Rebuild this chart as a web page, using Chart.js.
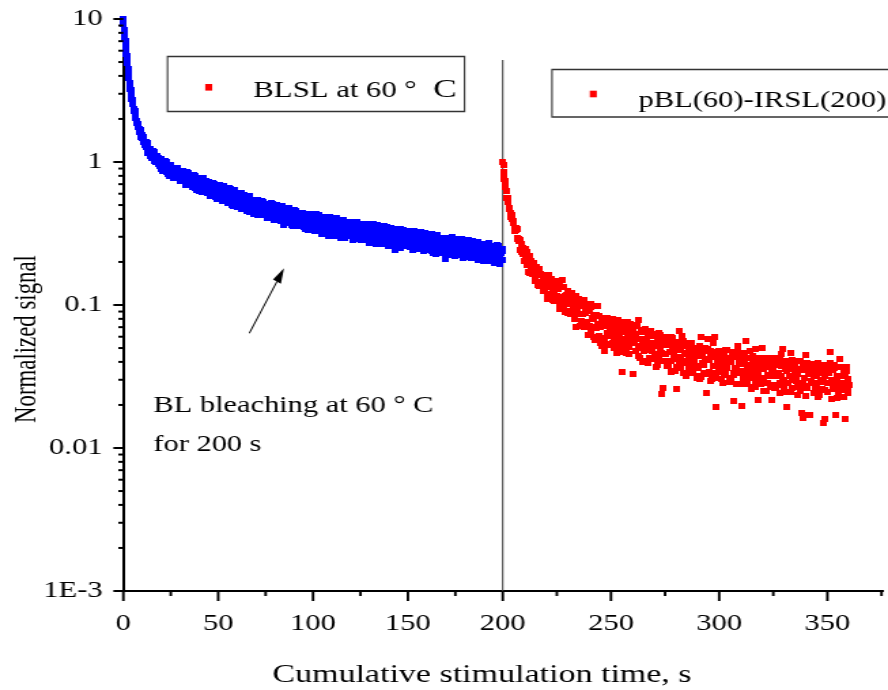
<!DOCTYPE html>
<html>
<head>
<meta charset="utf-8">
<title>BLSL and pBL(60)-IRSL(200) decay curves</title>
<script src="https://cdn.jsdelivr.net/npm/chart.js@4.4.1/dist/chart.umd.min.js"></script>
<style>
  html, body { margin: 0; padding: 0; background: #fff; overflow: hidden; }
  #wrap { width: 653px; height: 690px; transform: scale(1.35988, 1); transform-origin: 0 0; }
  #chart { display: block; }
</style>
</head>
<body>
<div id="wrap"><canvas id="chart" width="653" height="690"></canvas></div>
<script>
// The original figure is stretched sideways, so the chart is drawn on a narrower
// canvas and widened with a CSS transform. Positions given in "ref" pixels are divided by STRETCH.
const STRETCH = 888 / 653;
const SERIF = "'Liberation Serif', 'Times New Roman', serif";

// ---- data -----------------------------------------------------------------
// BLSL at 60 C: first 5 s read every 0.2 s, then readings every 0.25 s,
// kept as two lists: t = 5, 5.5, ... 200 and t = 5.25, 5.75, ... 199.75
const blueEarlyStep = 0.2;
const blueEarly = [10.0, 9.3, 8.4, 8.0, 7.3, 7.0, 6.4, 6.2, 5.7, 5.5, 5.0, 4.9, 4.45, 4.3, 3.95,
  3.85, 3.55, 3.5, 3.25, 3.2, 2.95, 2.95, 2.74, 2.72, 2.55];
const blueStart = 5;
const blueStep = 0.5;
const blueSignal = [
  2.55, 2.27, 2.27, 2.03, 1.95, 1.76, 1.80, 1.64, 1.68, 1.49,
  1.47, 1.50, 1.31, 1.38, 1.27, 1.36, 1.16, 1.24, 1.23, 1.11,
  1.19, 1.10, 1.02, 1.17, 1.02, 1.07, 1.10, 0.97, 0.99, 1.02,
  0.897, 0.982, 1.00, 0.913, 1.01, 0.856, 0.920, 0.956, 0.804, 0.911,
  0.954, 0.832, 0.876, 0.774, 0.894, 0.835, 0.778, 0.887, 0.798, 0.767,
  0.747, 0.830, 0.747, 0.854, 0.763, 0.784, 0.694, 0.815, 0.735, 0.838,
  0.692, 0.737, 0.797, 0.671, 0.755, 0.695, 0.795, 0.639, 0.730, 0.748,
  0.739, 0.750, 0.679, 0.616, 0.769, 0.641, 0.702, 0.738, 0.621, 0.656,
  0.684, 0.593, 0.668, 0.687, 0.621, 0.709, 0.583, 0.640, 0.673, 0.549,
  0.580, 0.688, 0.581, 0.625, 0.535, 0.649, 0.599, 0.549, 0.654, 0.573,
  0.600, 0.529, 0.653, 0.545, 0.608, 0.502, 0.615, 0.554, 0.514, 0.576,
  0.486, 0.575, 0.601, 0.520, 0.468, 0.577, 0.539, 0.495, 0.588, 0.509,
  0.567, 0.477, 0.527, 0.577, 0.455, 0.525, 0.489, 0.531, 0.432, 0.531,
  0.471, 0.545, 0.441, 0.489, 0.519, 0.423, 0.501, 0.449, 0.521, 0.432,
  0.497, 0.405, 0.481, 0.509, 0.429, 0.463, 0.408, 0.506, 0.439, 0.472,
  0.412, 0.457, 0.501, 0.390, 0.463, 0.421, 0.476, 0.395, 0.439, 0.365,
  0.475, 0.406, 0.443, 0.380, 0.471, 0.420, 0.391, 0.448, 0.360, 0.423,
  0.399, 0.461, 0.370, 0.426, 0.357, 0.433, 0.406, 0.378, 0.439, 0.365,
  0.426, 0.352, 0.402, 0.436, 0.374, 0.337, 0.411, 0.379, 0.418, 0.356,
  0.357, 0.419, 0.327, 0.387, 0.431, 0.340, 0.389, 0.360, 0.414, 0.314,
  0.395, 0.350, 0.414, 0.326, 0.368, 0.393, 0.306, 0.381, 0.331, 0.399,
  0.312, 0.370, 0.390, 0.341, 0.304, 0.403, 0.329, 0.354, 0.374, 0.316,
  0.393, 0.319, 0.354, 0.292, 0.373, 0.336, 0.381, 0.304, 0.359, 0.323,
  0.332, 0.376, 0.305, 0.355, 0.288, 0.342, 0.382, 0.311, 0.290, 0.354,
  0.358, 0.283, 0.332, 0.370, 0.306, 0.290, 0.348, 0.313, 0.361, 0.273,
  0.296, 0.333, 0.280, 0.366, 0.307, 0.345, 0.268, 0.334, 0.319, 0.285,
  0.345, 0.298, 0.320, 0.269, 0.347, 0.286, 0.322, 0.275, 0.352, 0.301,
  0.264, 0.327, 0.294, 0.339, 0.275, 0.306, 0.242, 0.326, 0.281, 0.338,
  0.306, 0.265, 0.340, 0.282, 0.312, 0.258, 0.319, 0.288, 0.331, 0.269,
  0.277, 0.328, 0.263, 0.296, 0.317, 0.243, 0.303, 0.267, 0.288, 0.317,
  0.249, 0.294, 0.273, 0.322, 0.259, 0.304, 0.240, 0.281, 0.297, 0.251,
  0.300, 0.270, 0.311, 0.244, 0.285, 0.256, 0.304, 0.230, 0.279, 0.258,
  0.248, 0.308, 0.259, 0.282, 0.230, 0.293, 0.241, 0.272, 0.295, 0.211,
  0.274, 0.238, 0.292, 0.252, 0.279, 0.224, 0.297, 0.242, 0.261, 0.230,
  0.221, 0.278, 0.243, 0.289, 0.227, 0.261, 0.249, 0.278, 0.214, 0.266,
  0.280, 0.234, 0.253, 0.218, 0.285, 0.228, 0.261, 0.238, 0.267, 0.212,
  0.251, 0.276, 0.221, 0.253, 0.205, 0.263, 0.230, 0.269, 0.214, 0.242,
  0.224, 0.262, 0.205, 0.254, 0.229, 0.270, 0.213, 0.244, 0.205, 0.254,
  0.249, 0.200, 0.238, 0.213, 0.261, 0.219, 0.249, 0.194, 0.231, 0.206, 0.240
];
const blueSignalOdd = [
  2.33, 2.28, 2.20, 1.94, 1.88, 1.84, 1.63, 1.71, 1.55, 1.53,
  1.54, 1.39, 1.31, 1.37, 1.39, 1.19, 1.24, 1.17, 1.24, 1.07,
  1.08, 1.19, 1.11, 0.993, 1.094, 1.012, 1.071, 1.015, 0.938, 1.045,
  0.979, 0.861, 1.012, 0.963, 0.870, 0.997, 0.888, 0.825, 0.924, 0.932,
  0.854, 0.906, 0.787, 0.915, 0.839, 0.789, 0.906, 0.809, 0.834, 0.731,
  0.736, 0.818, 0.865, 0.739, 0.768, 0.823, 0.691, 0.846, 0.732, 0.769,
  0.813, 0.726, 0.689, 0.765, 0.809, 0.661, 0.728, 0.684, 0.766, 0.629,
  0.661, 0.773, 0.711, 0.615, 0.726, 0.656, 0.725, 0.679, 0.611, 0.726,
  0.666, 0.576, 0.705, 0.669, 0.596, 0.707, 0.619, 0.570, 0.656, 0.667,
  0.602, 0.655, 0.547, 0.671, 0.604, 0.562, 0.675, 0.586, 0.613, 0.518,
  0.530, 0.603, 0.643, 0.536, 0.562, 0.610, 0.496, 0.632, 0.533, 0.566,
  0.605, 0.531, 0.500, 0.567, 0.606, 0.478, 0.537, 0.500, 0.572, 0.453,
  0.484, 0.575, 0.525, 0.449, 0.539, 0.483, 0.539, 0.503, 0.449, 0.542,
  0.495, 0.423, 0.528, 0.501, 0.443, 0.533, 0.463, 0.424, 0.494, 0.505,
  0.454, 0.494, 0.414, 0.508, 0.458, 0.426, 0.513, 0.446, 0.468, 0.396,
  0.405, 0.461, 0.495, 0.412, 0.433, 0.471, 0.385, 0.490, 0.416, 0.442,
  0.474, 0.416, 0.392, 0.445, 0.476, 0.375, 0.422, 0.393, 0.451, 0.358,
  0.382, 0.456, 0.417, 0.358, 0.429, 0.386, 0.431, 0.404, 0.361, 0.437,
  0.399, 0.342, 0.427, 0.405, 0.358, 0.432, 0.375, 0.344, 0.402, 0.411,
  0.368, 0.407, 0.332, 0.421, 0.375, 0.345, 0.428, 0.365, 0.386, 0.319,
  0.328, 0.382, 0.414, 0.336, 0.357, 0.393, 0.311, 0.412, 0.341, 0.366,
  0.397, 0.343, 0.321, 0.373, 0.404, 0.308, 0.354, 0.327, 0.384, 0.295,
  0.320, 0.391, 0.354, 0.297, 0.368, 0.326, 0.371, 0.344, 0.303, 0.378,
  0.342, 0.285, 0.370, 0.349, 0.303, 0.377, 0.322, 0.291, 0.349, 0.359,
  0.318, 0.352, 0.287, 0.365, 0.325, 0.300, 0.371, 0.317, 0.336, 0.277,
  0.286, 0.333, 0.361, 0.294, 0.312, 0.344, 0.272, 0.361, 0.299, 0.322,
  0.349, 0.302, 0.283, 0.328, 0.355, 0.271, 0.312, 0.288, 0.338, 0.260,
  0.282, 0.345, 0.312, 0.261, 0.324, 0.287, 0.327, 0.304, 0.267, 0.334,
  0.301, 0.252, 0.327, 0.308, 0.268, 0.333, 0.284, 0.257, 0.308, 0.316,
  0.281, 0.310, 0.253, 0.322, 0.287, 0.264, 0.328, 0.280, 0.296, 0.245,
  0.252, 0.294, 0.318, 0.259, 0.275, 0.303, 0.240, 0.318, 0.264, 0.284,
  0.308, 0.266, 0.249, 0.289, 0.313, 0.239, 0.275, 0.254, 0.298, 0.228,
  0.248, 0.304, 0.275, 0.230, 0.286, 0.253, 0.288, 0.268, 0.235, 0.294,
  0.266, 0.222, 0.288, 0.272, 0.236, 0.294, 0.250, 0.227, 0.272, 0.279,
  0.248, 0.274, 0.224, 0.284, 0.253, 0.234, 0.290, 0.248, 0.262, 0.217,
  0.223, 0.260, 0.282, 0.229, 0.244, 0.269, 0.213, 0.282, 0.234, 0.252,
  0.273, 0.236, 0.221, 0.256, 0.277, 0.212, 0.244, 0.225, 0.264, 0.203,
  0.220, 0.269, 0.244, 0.204, 0.253, 0.224, 0.255, 0.237, 0.208, 0.260,
  0.235, 0.196, 0.255, 0.240, 0.209, 0.260, 0.221, 0.200, 0.241, 0.247
];

// pBL(60)-IRSL(200): 200-205 s read every 0.2 s, then every 0.25 s up to 360 s
const redStart = 200;
const redEarlyStep = 0.2;
const redEarly = [1.00, 0.949, 0.849, 0.841, 0.761, 0.736, 0.670, 0.676, 0.625, 0.624,
  0.559, 0.557, 0.522, 0.528, 0.470, 0.477, 0.473, 0.438, 0.442, 0.410,
  0.424, 0.402, 0.408, 0.377, 0.381];
const redMainStart = 205;
const redStep = 0.5;
const redSignal = [
  0.388, 0.328, 0.335, 0.340, 0.288, 0.280, 0.282, 0.236, 0.251, 0.228,
  0.203, 0.232, 0.236, 0.192, 0.169, 0.199, 0.204, 0.166, 0.178, 0.196,
  0.158, 0.184, 0.139, 0.163, 0.178, 0.139, 0.161, 0.125, 0.160, 0.138,
  0.148, 0.113, 0.155, 0.161, 0.119, 0.133, 0.108, 0.142, 0.120, 0.146,
  0.107, 0.130, 0.094, 0.135, 0.108, 0.150, 0.096, 0.115, 0.089, 0.118,
  0.125, 0.101, 0.114, 0.086, 0.121, 0.088, 0.100, 0.070, 0.109, 0.087,
  0.0868, 0.108, 0.0713, 0.0983, 0.0864, 0.108, 0.0716, 0.0888, 0.0735, 0.0980,
  0.0907, 0.0644, 0.101, 0.0698, 0.0796, 0.0570, 0.0847, 0.0695, 0.0979, 0.0608,
  0.0541, 0.0729, 0.0805, 0.0590, 0.0473, 0.0755, 0.0639, 0.0806, 0.0537, 0.0701,
  0.0673, 0.0538, 0.0799, 0.0582, 0.0742, 0.0463, 0.0687, 0.0490, 0.0632, 0.0756,
  0.0340, 0.0686, 0.0541, 0.0726, 0.0458, 0.0641, 0.0761, 0.0512, 0.0556, 0.0674,
  0.0643, 0.0328, 0.0713, 0.0479, 0.0583, 0.0519, 0.0790, 0.0423, 0.0646, 0.0538,
  0.0476, 0.0664, 0.0513, 0.0582, 0.0390, 0.0616, 0.0427, 0.0663, 0.0476, 0.0542,
  0.0606, 0.0452, 0.0518, 0.0379, 0.0632, 0.0482, 0.0558, 0.0238, 0.0525, 0.0405,
  0.0454, 0.0594, 0.0372, 0.0524, 0.0407, 0.0594, 0.0339, 0.0488, 0.0535, 0.0421,
  0.0516, 0.0257, 0.0548, 0.0425, 0.0483, 0.0361, 0.0610, 0.0393, 0.0451, 0.0319,
  0.0541, 0.0398, 0.0502, 0.0337, 0.0452, 0.0542, 0.0357, 0.0413, 0.0503, 0.0319,
  0.0375, 0.0474, 0.0304, 0.0594, 0.0392, 0.0445, 0.0333, 0.0497, 0.0243, 0.0417,
  0.0580, 0.0338, 0.0445, 0.0303, 0.0539, 0.0376, 0.0471, 0.0192, 0.0414, 0.0338,
  0.0474, 0.0357, 0.0398, 0.0283, 0.0438, 0.0323, 0.0488, 0.0362, 0.0423, 0.0299,
  0.0308, 0.0398, 0.0469, 0.0335, 0.0212, 0.0432, 0.0361, 0.0518, 0.0279, 0.0396,
  0.0404, 0.0197, 0.0432, 0.0333, 0.0458, 0.0282, 0.0378, 0.0310, 0.0473, 0.0346,
  0.0269, 0.0411, 0.0334, 0.0495, 0.0294, 0.0360, 0.0217, 0.0423, 0.0310, 0.0374,
  0.0503, 0.0298, 0.0380, 0.0250, 0.0424, 0.0322, 0.0394, 0.0274, 0.0346, 0.0218,
  0.0364, 0.0263, 0.0424, 0.0324, 0.0278, 0.0394, 0.0241, 0.0373, 0.0452, 0.0300,
  0.0294, 0.0409, 0.0195, 0.0346, 0.0380, 0.0247, 0.0465, 0.0307, 0.0263, 0.0358,
  0.0384, 0.0296, 0.0331, 0.0234, 0.0406, 0.0276, 0.0353, 0.0163, 0.0385, 0.0307,
  0.0444, 0.0264, 0.0340, 0.0170, 0.0355, 0.0296, 0.0388, 0.0244, 0.0328, 0.0277,
  0.0285, 0.0392, 0.0233, 0.0350, 0.0299, 0.0364, 0.0149, 0.0321, 0.0255, 0.0378,
  0.0246, 0.0335, 0.0286, 0.0390, 0.0219, 0.0349, 0.0267, 0.0362, 0.0169, 0.0305,
  0.0369, 0.0256, 0.0422, 0.0270, 0.0317, 0.0229, 0.0331, 0.0283, 0.0345, 0.0243,
  0.0275
];
const redSignalOdd = [
  0.340, 0.348, 0.345, 0.295, 0.289, 0.286, 0.241, 0.268, 0.232, 0.233,
  0.246, 0.208, 0.189, 0.211, 0.221, 0.167, 0.186, 0.169, 0.191, 0.146,
  0.154, 0.184, 0.164, 0.135, 0.165, 0.144, 0.162, 0.148, 0.129, 0.158,
  0.142, 0.110, 0.154, 0.141, 0.115, 0.152, 0.122, 0.106, 0.134, 0.138,
  0.116, 0.131, 0.0985, 0.134, 0.114, 0.102, 0.134, 0.108, 0.115, 0.0876,
  0.0906, 0.110, 0.121, 0.0914, 0.0984, 0.111, 0.0803, 0.116, 0.0897, 0.0979,
  0.111, 0.0872, 0.0774, 0.0977, 0.109, 0.0700, 0.0875, 0.0760, 0.0968, 0.0620,
  0.0708, 0.0962, 0.0816, 0.0600, 0.0846, 0.0691, 0.0841, 0.0742, 0.0595, 0.0840,
  0.0701, 0.0515, 0.0786, 0.0716, 0.0568, 0.0800, 0.0622, 0.0524, 0.0705, 0.0731,
  0.0605, 0.0718, 0.0500, 0.0760, 0.0626, 0.0542, 0.0781, 0.0601, 0.0662, 0.0468,
  0.0497, 0.0652, 0.0743, 0.0521, 0.0580, 0.0686, 0.0452, 0.0740, 0.0538, 0.0611,
  0.0703, 0.0544, 0.0479, 0.0630, 0.0719, 0.0441, 0.0575, 0.0497, 0.0659, 0.0402,
  0.0474, 0.0676, 0.0569, 0.0406, 0.0604, 0.0485, 0.0609, 0.0534, 0.0418, 0.0623,
  0.0523, 0.0369, 0.0598, 0.0541, 0.0416, 0.0614, 0.0464, 0.0264, 0.0537, 0.0560,
  0.0453, 0.0540, 0.0372, 0.0585, 0.0469, 0.0403, 0.0589, 0.0449, 0.0496, 0.0345,
  0.0368, 0.0489, 0.0653, 0.0388, 0.0434, 0.0516, 0.0335, 0.0559, 0.0403, 0.0460,
  0.0528, 0.0410, 0.0361, 0.0476, 0.0544, 0.0335, 0.0436, 0.0378, 0.0502, 0.0307,
  0.0362, 0.0520, 0.0438, 0.0314, 0.0469, 0.0379, 0.0476, 0.0420, 0.0330, 0.0494,
  0.0415, 0.0294, 0.0477, 0.0432, 0.0334, 0.0596, 0.0374, 0.0309, 0.0434, 0.0454,
  0.0368, 0.0440, 0.0303, 0.0480, 0.0385, 0.0332, 0.0486, 0.0372, 0.0412, 0.0288,
  0.0307, 0.0409, 0.0467, 0.0324, 0.0363, 0.0432, 0.0280, 0.0469, 0.0337, 0.0386,
  0.0444, 0.0344, 0.0304, 0.0401, 0.0560, 0.0282, 0.0369, 0.0319, 0.0424, 0.0260,
  0.0307, 0.0440, 0.0372, 0.0266, 0.0398, 0.0322, 0.0406, 0.0357, 0.0281, 0.0421,
  0.0354, 0.0251, 0.0408, 0.0370, 0.0286, 0.0423, 0.0321, 0.0265, 0.0373, 0.0390,
  0.0318, 0.0380, 0.0262, 0.0414, 0.0332, 0.0286, 0.0419, 0.0320, 0.0492, 0.0248,
  0.0267, 0.0355, 0.0408, 0.0283, 0.0317, 0.0378, 0.0246, 0.0411, 0.0297, 0.0340,
  0.0392, 0.0305, 0.0269, 0.0355, 0.0406, 0.0250, 0.0175, 0.0283, 0.0377, 0.0231,
  0.0272, 0.0392, 0.0331, 0.0169, 0.0355, 0.0287, 0.0361, 0.0319, 0.0251, 0.0377,
  0.0318, 0.0226, 0.0366, 0.0332, 0.0257, 0.0380, 0.0289, 0.0159, 0.0337, 0.0352,
  0.0287, 0.0343, 0.0467, 0.0374, 0.0300, 0.0259, 0.0380, 0.0290, 0.0321, 0.0225,
  0.0240, 0.0320, 0.0367, 0.0254, 0.0285, 0.0339, 0.0160, 0.0368, 0.0267, 0.0306
];

// ---- labels and ticks -------------------------------------------------------
const legendLabels = ['BLSL at 60 \u00b0 C', 'pBL(60)-IRSL(200)'];
const noteLines = ['BL bleaching at 60 \u00b0 C', 'for 200 s'];
const xTitle = 'Cumulative stimulation time, s';
const yTitle = 'Normalized signal';
const separatorTime = 200;

// the left part (BLSL) and the right part (IRSL) of the time axis have different spacing
const xLabelsLeft = [0, 50, 100, 150, 200];
const xLabelsRight = [250, 300, 350];
const xMinorLeft = [25, 75, 125, 175];
const xMinorRight = [225, 275, 325, 375];
const yDecades = [0.001, 0.01, 0.1, 1];
const yTickLabels = { '0.001': '1E-3', '0.01': '0.01', '0.1': '0.1', '1': '1', '10': '10' };

const yTickValues = [];
yDecades.forEach(d => {
  for (let m = 1; m < 10; m++) yTickValues.push(+(d * m).toPrecision(3));
});
yTickValues.push(10);

function toPoints(start, step, values) {
  return values.map((v, i) => ({ x: +(start + i * step).toFixed(2), y: v }));
}

const bluePoints = toPoints(0, blueEarlyStep, blueEarly)
  .concat(toPoints(blueStart, blueStep, blueSignal))
  .concat(toPoints(blueStart + blueStep / 2, blueStep, blueSignalOdd));
const redPoints = toPoints(redStart, redEarlyStep, redEarly)
  .concat(toPoints(redMainStart, redStep, redSignal))
  .concat(toPoints(redMainStart + redStep / 2, redStep, redSignalOdd));

function squareMarker(color, w, h) {
  const c = document.createElement('canvas');
  c.width = w;
  c.height = h;
  const g = c.getContext('2d');
  g.fillStyle = color;
  g.fillRect(0, 0, w, h);
  return c;
}

function noPadding(s) {
  s.paddingLeft = 0;
  s.paddingRight = 0;
  s.paddingTop = 0;
  s.paddingBottom = 0;
}

// ---- plugins ----------------------------------------------------------------
// put the second time scale on the same row as the first one
const sharedAxisRow = {
  id: 'sharedAxisRow',
  afterLayout(chart) {
    const a = chart.scales.x;
    const b = chart.scales.x2;
    b.top = a.top;
    b.bottom = a.bottom;
    b.height = a.height;
  }
};

const decorations = {
  id: 'decorations',
  beforeDatasetsDraw(chart) {
    const { ctx, chartArea, scales: { x } } = chart;
    const px = x.getPixelForValue(separatorTime) * STRETCH;
    ctx.save();
    ctx.scale(1 / STRETCH, 1);
    ctx.strokeStyle = '#3a3a3a';
    ctx.lineWidth = 1.4;
    ctx.beginPath();
    ctx.moveTo(px, 60);
    ctx.lineTo(px, chartArea.bottom);
    ctx.stroke();
    ctx.restore();
  },
  afterDraw(chart) {
    const { ctx, chartArea, scales: { x, x2, y } } = chart;
    ctx.save();
    ctx.scale(1 / STRETCH, 1);
    ctx.strokeStyle = '#000';

    // tick marks
    const left = chartArea.left * STRETCH;
    ctx.lineWidth = 2;
    yTickValues.forEach(v => {
      const lg = Math.log10(v);
      const major = Math.abs(lg - Math.round(lg)) < 1e-9;
      const py = y.getPixelForValue(v);
      ctx.beginPath();
      ctx.moveTo(left - (major ? 10 : 5), py);
      ctx.lineTo(left, py);
      ctx.stroke();
    });
    ctx.lineWidth = 2.6;
    const xTick = (scale, v, len) => {
      const px = scale.getPixelForValue(v) * STRETCH;
      ctx.beginPath();
      ctx.moveTo(px, chartArea.bottom);
      ctx.lineTo(px, chartArea.bottom + len);
      ctx.stroke();
    };
    xLabelsLeft.forEach(v => xTick(x, v, 10));
    xMinorLeft.forEach(v => xTick(x, v, 5));
    xLabelsRight.forEach(v => xTick(x2, v, 10));
    xMinorRight.forEach(v => xTick(x2, v, 5));

    // legend boxes
    ctx.lineWidth = 1.5;
    ctx.strokeStyle = '#333';
    ctx.fillStyle = '#fff';
    ctx.fillRect(167.5, 56.5, 297, 55);
    ctx.strokeRect(167.5, 56.5, 297, 55);
    ctx.fillRect(552, 69.5, 345, 47.5);
    ctx.strokeRect(552, 69.5, 345, 47.5);
    ctx.fillStyle = '#ff0000';
    ctx.fillRect(205.2, 84, 7, 6.6);
    ctx.fillRect(589.8, 90.7, 7, 6.6);

    // arrow pointing at the BLSL curve
    const tail = [249.3, 333.3];
    const tip = [284, 268.3];
    const dx = tip[0] - tail[0], dy = tip[1] - tail[1];
    const len = Math.hypot(dx, dy);
    const ux = dx / len, uy = dy / len;
    const bx = tip[0] - ux * 15, by = tip[1] - uy * 15;
    ctx.strokeStyle = '#000';
    ctx.fillStyle = '#000';
    ctx.lineWidth = 1.3;
    ctx.beginPath();
    ctx.moveTo(tail[0], tail[1]);
    ctx.lineTo(bx, by);
    ctx.stroke();
    ctx.beginPath();
    ctx.moveTo(tip[0], tip[1]);
    ctx.lineTo(bx - uy * 4.5, by + ux * 4.5);
    ctx.lineTo(bx + uy * 4.5, by - ux * 4.5);
    ctx.closePath();
    ctx.fill();
    ctx.restore();

    // texts (drawn on the narrow canvas so they get widened like the original)
    ctx.save();
    ctx.fillStyle = '#000';
    ctx.textBaseline = 'alphabetic';
    ctx.textAlign = 'left';
    ctx.font = `22.6px ${SERIF}`;
    const first = legendLabels[0];
    ctx.fillText(first.slice(0, -1).trimEnd(), 253.3 / STRETCH, 96.7);
    ctx.font = `26px ${SERIF}`;
    ctx.fillText(first.slice(-1), 433 / STRETCH, 96.9);
    ctx.font = `22.5px ${SERIF}`;
    ctx.fillText(legendLabels[1], 638.3 / STRETCH, 106.7);

    ctx.font = `22.4px ${SERIF}`;
    ctx.fillText(noteLines[0], 153.3 / STRETCH, 411.5);
    ctx.fillText(noteLines[1], 153.3 / STRETCH, 450.7);

    ctx.font = `25px ${SERIF}`;
    ctx.textAlign = 'center';
    ctx.fillText(xTitle, 482 / STRETCH, 681.5);

    ctx.font = `22.8px ${SERIF}`;
    ctx.translate(36 / STRETCH, 339);
    ctx.rotate(-Math.PI / 2);
    ctx.fillText(yTitle, 0, 0);
    ctx.restore();
  }
};

// ---- chart ------------------------------------------------------------------
Chart.defaults.font.family = SERIF;
Chart.defaults.color = '#000';

const tickFont = { family: SERIF, size: 22.5 };

new Chart(document.getElementById('chart'), {
  type: 'scatter',
  data: {
    datasets: [
      {
        label: legendLabels[0],
        data: bluePoints,
        xAxisID: 'x',
        yAxisID: 'y',
        pointStyle: squareMarker('#0000ff', 5, 6),
        pointRadius: 3,
        backgroundColor: '#0000ff',
        borderWidth: 0,
        clip: false
      },
      {
        label: legendLabels[1],
        data: redPoints,
        xAxisID: 'x2',
        yAxisID: 'y',
        pointStyle: squareMarker('#ff0000', 5, 6),
        pointRadius: 3,
        backgroundColor: '#ff0000',
        borderWidth: 0,
        clip: false
      }
    ]
  },
  options: {
    responsive: false,
    devicePixelRatio: 1,
    animation: false,
    events: [],
    parsing: false,
    layout: { padding: { top: 19, right: 0, bottom: 0, left: 0 } },
    plugins: {
      legend: { display: false },
      tooltip: { enabled: false }
    },
    scales: {
      x: {
        type: 'linear',
        position: 'bottom',
        bounds: 'data',
        min: 0,
        max: 400.2,
        afterBuildTicks: s => { s.ticks = xLabelsLeft.map(v => ({ value: v })); },
        afterFit: s => { s.height = 99; noPadding(s); },
        grid: { display: false, drawTicks: false },
        border: { display: true, color: '#000', width: 2 },
        ticks: { autoSkip: false, maxRotation: 0, padding: 20, font: tickFont, color: '#000' }
      },
      x2: {
        type: 'linear',
        position: 'bottom',
        bounds: 'data',
        min: 24.7,
        max: 375.5,
        afterBuildTicks: s => { s.ticks = xLabelsRight.map(v => ({ value: v })); },
        afterFit: s => { s.height = 0; noPadding(s); },
        grid: { display: false, drawTicks: false },
        border: { display: false },
        ticks: { autoSkip: false, maxRotation: 0, padding: 20, font: tickFont, color: '#000' }
      },
      y: {
        type: 'logarithmic',
        position: 'left',
        bounds: 'data',
        min: 0.001,
        max: 10,
        afterBuildTicks: s => { s.ticks = yTickValues.map(v => ({ value: v })); },
        afterFit: s => { s.width = 90.7; noPadding(s); },
        grid: { display: false, drawTicks: false },
        border: { display: true, color: '#000', width: 2 },
        ticks: {
          autoSkip: false,
          padding: 15.3,
          font: tickFont,
          color: '#000',
          callback: v => yTickLabels[String(v)] || ''
        }
      }
    }
  },
  plugins: [sharedAxisRow, decorations]
});
</script>
</body>
</html>
